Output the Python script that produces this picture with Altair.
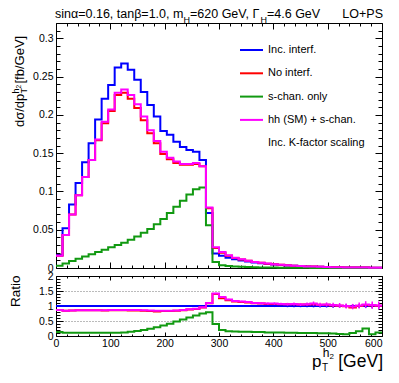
import altair as alt
import pandas as pd

FONT = "Liberation Sans"

# ---------------- data (12 GeV bins, 0-600 GeV) ----------------
bin_edges = list(range(0, 601, 12))

series_names = ["Inc. interf.", "No interf.", "s-chan. only", "hh (SM) + s-chan."]
series_colors = ["#0000ff", "#ff0000", "#119911", "#ff00ff"]

inc_interf = [0.017, 0.052, 0.083, 0.111, 0.138, 0.163, 0.194, 0.221, 0.239, 0.262,
              0.267, 0.259, 0.246, 0.230, 0.213, 0.198, 0.179, 0.174, 0.165, 0.158,
              0.154, 0.152, 0.141, 0.072, 0.019, 0.016, 0.0135, 0.0115, 0.0098, 0.0084,
              0.0072, 0.0062, 0.0053, 0.0045, 0.0039, 0.0033, 0.0028, 0.0024, 0.0020, 0.0017,
              0.0015, 0.0013, 0.0011, 0.0009, 0.0008, 0.0007, 0.0006, 0.0005, 0.00045, 0.0004]

no_interf = [0.016, 0.043, 0.070, 0.095, 0.119, 0.141, 0.167, 0.189, 0.205, 0.226,
             0.229, 0.221, 0.209, 0.193, 0.176, 0.163, 0.149, 0.142, 0.137, 0.135,
             0.135, 0.136, 0.133, 0.078, 0.026, 0.020, 0.016, 0.0132, 0.0111, 0.0094,
             0.0079, 0.0067, 0.0057, 0.0048, 0.0041, 0.0035, 0.0030, 0.0025, 0.0021, 0.0018,
             0.0016, 0.0014, 0.0011, 0.0009, 0.0008, 0.00067, 0.0006, 0.0005, 0.00046, 0.0004]

s_chan_only = [0.003, 0.006, 0.009, 0.012, 0.015, 0.018, 0.021, 0.024, 0.027, 0.030,
               0.033, 0.037, 0.041, 0.046, 0.051, 0.057, 0.064, 0.072, 0.080, 0.088,
               0.096, 0.103, 0.105, 0.056, 0.008, 0.0035, 0.0025, 0.0020, 0.0015, 0.0012,
               0.0010, 0.0008, 0.0006, 0.0005, 0.0004, 0.0003, 0.00028, 0.00022, 0.0002, 0.00015,
               0.00013, 0.0001, 0.00008, 0.00006, 0.00005, 0.00006, 0.00008, 0.0001, 0.00002, 0.00004]

hh_plus_s = [0.016, 0.043, 0.070, 0.095, 0.119, 0.141, 0.168, 0.191, 0.207, 0.229,
             0.233, 0.226, 0.214, 0.198, 0.180, 0.166, 0.152, 0.144, 0.139, 0.136,
             0.136, 0.137, 0.133, 0.079, 0.027, 0.021, 0.0165, 0.0135, 0.0113, 0.0095,
             0.0080, 0.0068, 0.0058, 0.0049, 0.0042, 0.0035, 0.0030, 0.0025, 0.0021, 0.0018,
             0.0016, 0.0014, 0.0011, 0.0009, 0.0008, 0.0007, 0.0006, 0.0005, 0.00046, 0.0004]

ratio_inc = [1.0, 1.0, 1.0, 1.0, 1.0, 1.0, 1.0, 1.0, 1.0, 1.0,
             1.0, 1.0, 1.0, 1.0, 1.0, 1.0, 1.0, 1.0, 1.0, 1.0,
             1.0, 1.0, 1.0, 1.0, 1.0, 1.0, 1.0, 1.0, 1.0, 1.0,
             1.0, 1.0, 1.0, 1.0, 1.0, 1.0, 1.0, 1.0, 1.0, 1.0,
             1.0, 1.0, 1.0, 1.0, 1.0, 1.0, 1.0, 1.0, 1.0, 1.0]

ratio_no = [0.87, 0.84, 0.85, 0.86, 0.86, 0.86, 0.86, 0.85, 0.86, 0.86,
            0.86, 0.85, 0.85, 0.84, 0.83, 0.82, 0.83, 0.83, 0.84, 0.86,
            0.88, 0.90, 0.95, 1.09, 1.40, 1.26, 1.19, 1.15, 1.13, 1.12,
            1.09, 1.08, 1.07, 1.07, 1.06, 1.06, 1.06, 1.05, 1.05, 1.06,
            1.04, 1.04, 1.02, 1.01, 0.99, 0.95, 1.00, 1.03, 1.02, 1.01]

ratio_s = [0.13, 0.11, 0.11, 0.105, 0.105, 0.105, 0.105, 0.105, 0.11, 0.11,
           0.12, 0.14, 0.17, 0.20, 0.24, 0.29, 0.35, 0.41, 0.48, 0.55,
           0.62, 0.68, 0.75, 0.79, 0.40, 0.20, 0.16, 0.15, 0.14, 0.14,
           0.13, 0.13, 0.12, 0.12, 0.12, 0.11, 0.11, 0.10, 0.10, 0.10,
           0.09, 0.09, 0.08, 0.07, 0.06, 0.10, 0.16, 0.25, 0.06, 0.12]

ratio_hh = [0.87, 0.84, 0.85, 0.86, 0.86, 0.86, 0.86, 0.86, 0.87, 0.87,
            0.87, 0.87, 0.87, 0.86, 0.85, 0.84, 0.84, 0.84, 0.85, 0.87,
            0.89, 0.91, 0.96, 1.10, 1.42, 1.30, 1.22, 1.17, 1.15, 1.13,
            1.10, 1.09, 1.08, 1.08, 1.07, 1.06, 1.07, 1.05, 1.06, 1.08,
            1.04, 1.05, 1.03, 1.02, 1.00, 0.98, 1.02, 1.05, 1.03, 1.02]

err_inc = [0.0, 0.0, 0.0, 0.0, 0.0, 0.0, 0.0, 0.0, 0.0, 0.0,
           0.0, 0.0, 0.0, 0.0, 0.0, 0.0, 0.0, 0.0, 0.0, 0.0,
           0.0, 0.0, 0.0, 0.01, 0.02, 0.02, 0.02, 0.025, 0.025, 0.03,
           0.03, 0.03, 0.035, 0.035, 0.035, 0.04, 0.04, 0.04, 0.045, 0.045,
           0.05, 0.05, 0.055, 0.055, 0.06, 0.06, 0.065, 0.07, 0.075, 0.08]

err_hh = [0.0, 0.0, 0.0, 0.0, 0.0, 0.0, 0.0, 0.0, 0.0, 0.0,
          0.0, 0.0, 0.0, 0.0, 0.0, 0.0, 0.0, 0.0, 0.0, 0.0,
          0.0, 0.0, 0.01, 0.015, 0.02, 0.02, 0.02, 0.025, 0.025, 0.03,
          0.03, 0.035, 0.035, 0.04, 0.04, 0.045, 0.05, 0.05, 0.055, 0.07,
          0.065, 0.07, 0.075, 0.08, 0.085, 0.09, 0.10, 0.11, 0.12, 0.13]

x_major = [0, 100, 200, 300, 400, 500, 600]
x_minor = [20, 40, 60, 80, 120, 140, 160, 180, 220, 240, 260, 280, 320, 340, 360, 380,
           420, 440, 460, 480, 520, 540, 560, 580]
main_y_major = [0, 0.05, 0.1, 0.15, 0.2, 0.25, 0.3]
main_y_minor = [0.01, 0.02, 0.03, 0.04, 0.06, 0.07, 0.08, 0.09, 0.11, 0.12, 0.13, 0.14,
                0.16, 0.17, 0.18, 0.19, 0.21, 0.22, 0.23, 0.24, 0.26, 0.27, 0.28, 0.29,
                0.31, 0.32]
ratio_y_major = [0, 0.5, 1, 1.5, 2]
ratio_y_minor = [0.1, 0.2, 0.3, 0.4, 0.6, 0.7, 0.8, 0.9, 1.1, 1.2, 1.3, 1.4,
                 1.6, 1.7, 1.8, 1.9]
ratio_grid = [0.5, 1, 1.5]

# ---------------- layout ----------------
W = 326
H_MAIN = 245
GAP = 8
H_RATIO = 60
H = H_MAIN + GAP + H_RATIO

dummy = pd.DataFrame({"x": [0.0], "y": [0.0]})


def xs():
    return alt.Scale(domain=[0, 600], nice=False, zero=False)


def ys_main():
    return alt.Scale(domain=[0, 0.32], range=[H_MAIN, 0], nice=False, zero=False)


def ys_ratio():
    return alt.Scale(domain=[0, 2], range=[H, H - H_RATIO], nice=False, zero=False)


def axis(orient, values, size, labels=False, domain=False, offset=0, pad=0, grid=False,
         fmt="~g", **kw):
    props = dict(orient=orient, values=values, title=None, labels=labels, domain=domain,
                 grid=grid, ticks=size > 0, offset=offset, domainColor="black",
                 domainWidth=1, tickColor="black", tickWidth=1, labelColor="black",
                 labelFont=FONT, labelFontSize=10.5, format=fmt, labelPadding=pad,
                 labelFlush=False, labelOverlap=False)
    if size > 0:
        props["tickSize"] = alt.ExprRef(expr=str(-size))
    props.update(kw)
    return alt.Axis(**props)


def step_layer(vals, color, yscale, xaxis, yaxis):
    df = pd.DataFrame({"pt": bin_edges, "v": list(vals) + [vals[-1]]})
    return alt.Chart(df).mark_line(interpolate="step-after", color=color, strokeWidth=2).encode(
        x=alt.X("pt:Q", scale=xs(), axis=xaxis),
        y=alt.Y("v:Q", scale=yscale, axis=yaxis),
    )


def err_layer(vals, errs, color):
    df = pd.DataFrame({
        "c": [e + 6 for e in bin_edges[:-1]],
        "lo": [v - e for v, e in zip(vals, errs)],
        "hi": [v + e for v, e in zip(vals, errs)],
    })
    df = df[[e > 0 for e in errs]]
    return alt.Chart(df).mark_rule(color=color, strokeWidth=1.5).encode(
        x=alt.X("c:Q", scale=xs(), axis=None),
        y=alt.Y("lo:Q", scale=ys_ratio(), axis=None),
        y2="hi:Q",
    )


def txt(s, x, y, size, align="left", baseline="alphabetic", angle=0):
    return alt.Chart(dummy).mark_text(text=s, font=FONT, fontSize=size, align=align,
                                      baseline=baseline, angle=angle, color="black").encode(
        x=alt.value(x), y=alt.value(y))


def leg_line(color, y):
    return alt.Chart(dummy).mark_rule(color=color, strokeWidth=2).encode(
        x=alt.value(184), x2=alt.value(207), y=alt.value(y))


off_main_bottom = -(H - H_MAIN)
off_ratio_top = -(H - H_RATIO)
align600 = {"condition": {"test": "datum.value >= 600", "value": "right"}, "value": "center"}

layers = [
    # main panel histograms (each carrying one x and one y axis)
    step_layer(inc_interf, series_colors[0], ys_main(),
               axis("bottom", x_major, 6, domain=True, offset=off_main_bottom),
               axis("left", main_y_major, 7, labels=True, domain=True, pad=10)),
    step_layer(no_interf, series_colors[1], ys_main(),
               axis("bottom", x_minor, 3, offset=off_main_bottom),
               axis("left", main_y_minor, 4)),
    step_layer(s_chan_only, series_colors[2], ys_main(),
               axis("top", x_major, 6, domain=True),
               axis("right", main_y_major, 7, domain=True)),
    step_layer(hh_plus_s, series_colors[3], ys_main(),
               axis("top", x_minor, 3),
               axis("right", main_y_minor, 4)),
    # ratio panel grid
    alt.Chart(dummy).mark_point(opacity=0).encode(
        x=alt.X("x:Q", scale=xs(), axis=None),
        y=alt.Y("y:Q", scale=ys_ratio(),
                axis=axis("left", ratio_grid, 0, grid=True, gridDash=[1, 2],
                          gridColor="#777777", gridWidth=1))),
    # ratio panel
    step_layer(ratio_inc, series_colors[0], ys_ratio(),
               axis("bottom", x_major, 4, labels=True, domain=True, pad=6, fmt="d",
                    labelAlign=align600),
               axis("left", ratio_y_major, 7, labels=True, domain=True, pad=10)),
    err_layer(ratio_inc, err_inc, series_colors[0]),
    step_layer(ratio_no, series_colors[1], ys_ratio(),
               axis("bottom", x_minor, 2),
               axis("left", ratio_y_minor, 4)),
    step_layer(ratio_s, series_colors[2], ys_ratio(),
               axis("top", x_major, 4, domain=True, offset=off_ratio_top),
               axis("right", ratio_y_major, 7, domain=True)),
    step_layer(ratio_hh, series_colors[3], ys_ratio(),
               axis("top", x_minor, 2, offset=off_ratio_top),
               axis("right", ratio_y_minor, 4)),
    err_layer(ratio_hh, err_hh, series_colors[3]),
]

# legend
leg_y = [27, 50.3, 73.6, 96.9]
for name, col, yy in zip(series_names, series_colors, leg_y):
    layers.append(leg_line(col, yy))
    layers.append(txt(name, 212, yy, 11, baseline="middle"))
layers.append(txt("Inc. K-factor scaling", 212, 120.2, 11, baseline="middle"))

# header
HB = -5
layers += [
    txt("sin\u03b1=0.16, tan\u03b2=1.0, m", -1, HB, 12.5),
    txt("H", 127.4, HB + 4.5, 9),
    txt("=620 GeV, \u0393", 134, HB, 12.5),
    txt("H", 204.5, HB + 4.5, 9),
    txt("=4.6 GeV", 211, HB, 12.5),
    txt("LO+PS", 327, HB, 12.5, align="right"),
]

# y title (main)
layers += [
    txt("d\u03c3/dp", -32.5, 104, 13, angle=270),
    txt("h", -37.5, 70.5, 9, angle=270),
    txt("2", -35.5, 65.5, 6.5, angle=270),
    txt("T", -29.5, 70.5, 9, angle=270),
    txt(" [fb/GeV]", -32.5, 60.5, 13, angle=270),
    txt("Ratio", -36, 284, 13.5, angle=270),
]

# x title
layers += [
    txt("p", 256, 344, 17),
    txt("h", 266.7, 334, 12),
    txt("2", 273.4, 336, 8),
    txt("T", 266, 347.5, 10),
    txt("[GeV]", 327, 344, 17.5, align="right"),
]

chart = alt.layer(*layers).resolve_scale(x="independent", y="independent").properties(
    width=W, height=H,
    autosize=alt.AutoSizeParams(type="none"),
    padding={"left": 48, "top": 15, "right": 9, "bottom": 39},
).configure_view(stroke=None)

chart.save("out.html", embed_options={"renderer": "svg", "actions": False})
